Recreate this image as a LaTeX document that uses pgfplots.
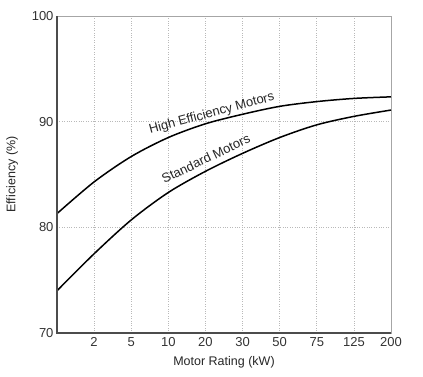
\documentclass[border=0pt]{standalone}
\usepackage{pgfplots}
\pgfplotsset{compat=1.18}
\usepackage{fontspec}
\setmainfont{Liberation Sans}
\begin{document}
\begin{tikzpicture}[x=1pt,y=1pt]
\begin{axis}[
  at={(0,0)}, anchor=south west,
  scale only axis, width=334pt, height=317pt,
  xmin=0, xmax=9, ymin=70, ymax=100,
  xtick={1,2,3,4,5,6,7,8,9},
  xticklabels={2,5,10,20,30,50,75,125,200},
  ytick={70,80,90,100},
  grid=major,
  major grid style={dotted, gray!55, line width=0.6pt},
  major tick length=0pt,
  axis line style={gray!70, line width=0.9pt},
  tick label style={font=\fontsize{13}{15}\selectfont, text=black!80},
  label style={font=\fontsize{12.5}{15}\selectfont, text=black!85},
  xlabel={Motor Rating (kW)},
  ylabel={Efficiency (\%)},
  xticklabel style={yshift=-1pt},
  xlabel style={yshift=-3pt},
  ylabel style={yshift=7pt},
  /pgf/number format/assume math mode=true,
  clip=false,
]
\addplot[black, line width=1.5pt, smooth] coordinates {
  (0,81.3) (1,84.3) (2,86.7) (3,88.5) (4,89.8) (5,90.7) (6,91.45) (7,91.9) (8,92.2) (9,92.35)
};
\addplot[black, line width=1.5pt, smooth] coordinates {
  (0,74.0) (1,77.5) (2,80.7) (3,83.3) (4,85.3) (5,87.0) (6,88.5) (7,89.7) (8,90.5) (9,91.1)
};
\node[rotate=15, font=\fontsize{13}{15}\selectfont, text=black!85] at (axis cs:4.17,90.75) {High Efficiency Motors};
\node[rotate=25.5, font=\fontsize{13}{15}\selectfont, text=black!85] at (axis cs:4.01,86.5) {Standard Motors};
\draw[gray!60!black, line width=1.4pt] (rel axis cs:0,1) -- (rel axis cs:0,0) -- (rel axis cs:1,0);
\end{axis}
\pgfresetboundingbox
\path[use as bounding box] (-57pt,-43pt) rectangle (366pt,333pt);
\end{tikzpicture}
\end{document}
